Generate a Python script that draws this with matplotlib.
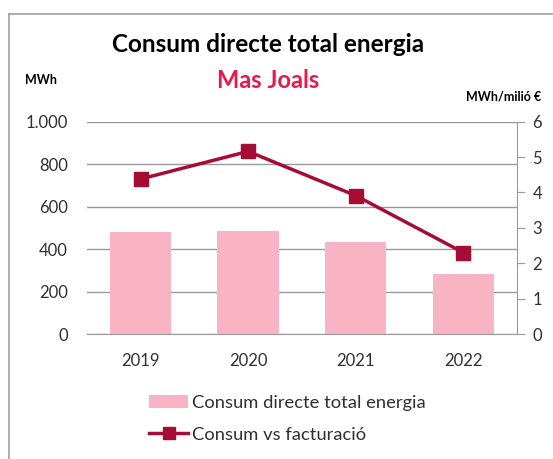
import numpy as np
import matplotlib.pyplot as plt
from matplotlib.lines import Line2D
from matplotlib.patches import Patch

plt.rcParams["font.family"] = ["Lato", "DejaVu Sans"]

years = ["2019", "2020", "2021", "2022"]
consum_mwh = [480, 487, 432, 284]
consum_vs_facturacio = [4.38, 5.16, 3.91, 2.30]

left_ticks = [0, 200, 400, 600, 800, 1000]
left_labels = ["0", "200", "400", "600", "800", "1.000"]
right_ticks = [0, 1, 2, 3, 4, 5, 6]

bar_color = "#F8B4C5"
line_color = "#A50D34"
title_color = "#E8194B"
grid_color = "#9A9A9A"
text_color = "#303030"

fig = plt.figure(figsize=(5.53, 4.59), dpi=100)
ax = fig.add_axes([0.1568, 0.2723, 0.7786, 0.4626])
ax2 = ax.twinx()

x = np.arange(len(years))
ax.bar(x, consum_mwh, width=0.57, color=bar_color, zorder=2)
ax.set_xlim(-0.5, len(years) - 0.5)
ax.set_ylim(0, 1000)
ax.set_yticks(left_ticks)
ax.set_yticklabels(left_labels)
ax.set_xticks(x)
ax.set_xticklabels(years)
ax.yaxis.grid(True, color=grid_color, linewidth=1.0, zorder=0)
ax.set_axisbelow(True)
ax.tick_params(axis="y", length=0, pad=13.5, labelsize=12, labelcolor=text_color)
ax.tick_params(axis="x", length=0, pad=14, labelsize=12, labelcolor=text_color)
for s in ["left", "top", "right"]:
    ax.spines[s].set_visible(False)
ax.spines["bottom"].set_color(grid_color)

ax2.plot(x, consum_vs_facturacio, color=line_color, linewidth=2.5,
         marker="s", markersize=10, zorder=3)
ax2.set_ylim(0, 6)
ax2.set_yticks(right_ticks)
ax2.tick_params(axis="y", length=6, color=grid_color, pad=5, labelsize=12,
                labelcolor=text_color)
for s in ["left", "top", "bottom"]:
    ax2.spines[s].set_visible(False)
ax2.spines["right"].set_color(grid_color)

fig.text(0.485, 0.903, "Consum directe total energia", ha="center", va="center",
         fontsize=17.5, fontweight="bold", color="black")
fig.text(0.485, 0.825, "Mas Joals", ha="center", va="center",
         fontsize=17, fontweight="bold", color=title_color)
fig.text(0.045, 0.826, "MWh", ha="left", va="center", fontsize=9, fontweight="bold")
fig.text(0.978, 0.790, "MWh/milió €", ha="right", va="center", fontsize=9,
         fontweight="bold")

handles = [
    Patch(facecolor=bar_color, edgecolor="none", label="Consum directe total energia"),
    Line2D([0], [0], color=line_color, linewidth=2.5, marker="s", markersize=8,
           label="Consum vs facturació"),
]
fig.legend(handles=handles, loc="upper left", bbox_to_anchor=(0.257, 0.155),
           frameon=False, fontsize=13.2, handlelength=2.1, handletextpad=0.2,
           labelspacing=0.85, borderaxespad=0, labelcolor=text_color)

# chart frame
fig.add_artist(Line2D([9 / 553, 1], [1 - 14 / 459, 1 - 14 / 459],
                      transform=fig.transFigure, color="#A0A0A0", linewidth=1.2))
fig.add_artist(Line2D([9 / 553, 9 / 553], [0, 1 - 14 / 459],
                      transform=fig.transFigure, color="#A0A0A0", linewidth=1.2))

fig.savefig("out.png", dpi=100)
